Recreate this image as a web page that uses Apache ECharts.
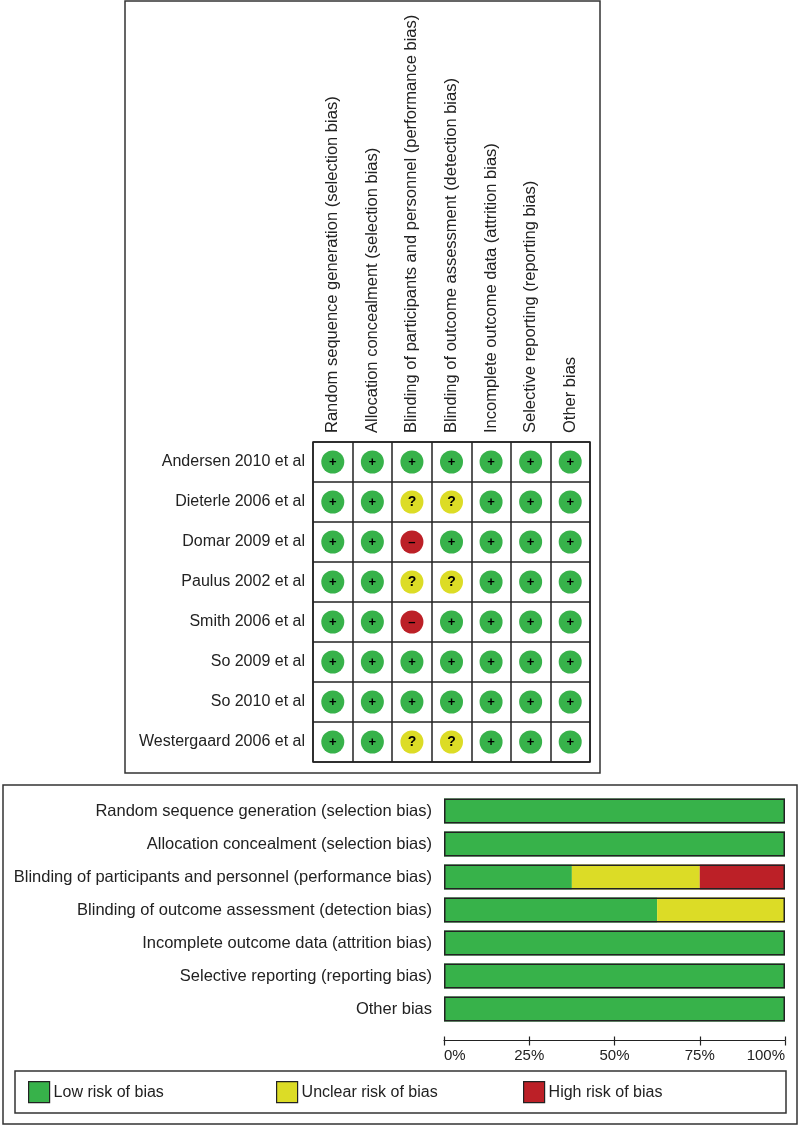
<!DOCTYPE html>
<html>
<head>
<meta charset="utf-8">
<script src="https://cdn.jsdelivr.net/npm/echarts@6/dist/echarts.min.js"></script>
<style>
  html, body { margin: 0; padding: 0; background: #fff; }
  #chart { width: 800px; height: 1129px; }
</style>
</head>
<body>
<div id="chart"></div>
<script>
// risk of bias domains (column headers / bar labels)
var domains = [
    'Random sequence generation (selection bias)',
    'Allocation concealment (selection bias)',
    'Blinding of participants and personnel (performance bias)',
    'Blinding of outcome assessment (detection bias)',
    'Incomplete outcome data (attrition bias)',
    'Selective reporting (reporting bias)',
    'Other bias'
];

var studies = [
    'Andersen 2010 et al',
    'Dieterle 2006 et al',
    'Domar 2009 et al',
    'Paulus 2002 et al',
    'Smith 2006 et al',
    'So 2009 et al',
    'So 2010 et al',
    'Westergaard 2006 et al'
];

// L = low, U = unclear, H = high; one row per study, one entry per domain
var judgments = [
    ['L', 'L', 'L', 'L', 'L', 'L', 'L'],
    ['L', 'L', 'U', 'U', 'L', 'L', 'L'],
    ['L', 'L', 'H', 'L', 'L', 'L', 'L'],
    ['L', 'L', 'U', 'U', 'L', 'L', 'L'],
    ['L', 'L', 'H', 'L', 'L', 'L', 'L'],
    ['L', 'L', 'L', 'L', 'L', 'L', 'L'],
    ['L', 'L', 'L', 'L', 'L', 'L', 'L'],
    ['L', 'L', 'U', 'U', 'L', 'L', 'L']
];

// percentage of studies per domain (risk of bias graph)
var lowPct = [100, 100, 37.5, 62.5, 100, 100, 100];
var unclearPct = [0, 0, 37.5, 37.5, 0, 0, 0];
var highPct = [0, 0, 25, 0, 0, 0, 0];

var GREEN = '#37b24a', YELLOW = '#dcdc26', RED = '#bc2027';
var colorOf = {L: GREEN, U: YELLOW, H: RED};
var markOf = {L: '+', U: '?', H: '\u2013'};
var fontFam = 'Liberation Sans, Arial, sans-serif';

var cells = [];
judgments.forEach(function (row, i) {
    row.forEach(function (j, k) {
        cells.push({
            value: [k, i, j],
            itemStyle: {color: colorOf[j]},
            label: {fontSize: j === 'U' ? 14 : 13}
        });
    });
});

var e = echarts.init(document.getElementById('chart'));
e.setOption({
    animation: false,
    backgroundColor: '#fff',
    textStyle: {fontFamily: fontFam},
    graphic: [
        {type: 'rect', shape: {x: 125, y: 1, width: 475, height: 772},
            style: {fill: 'none', stroke: '#333', lineWidth: 1.5}},
        {type: 'rect', shape: {x: 3, y: 785, width: 794, height: 339},
            style: {fill: 'none', stroke: '#333', lineWidth: 1.5}},
        {type: 'rect', shape: {x: 15, y: 1071, width: 771, height: 42},
            style: {fill: 'none', stroke: '#333', lineWidth: 1.5}}
    ],
    grid: [
        {left: 313, top: 442, width: 277, height: 320, show: true,
            borderColor: '#222', borderWidth: 1.5, backgroundColor: 'transparent'},
        {left: 444, top: 794.5, width: 341, height: 231}
    ],
    xAxis: [
        {
            gridIndex: 0, type: 'category', data: domains, position: 'top',
            axisLine: {show: false}, axisTick: {show: false},
            axisLabel: {rotate: -90, interval: 0, margin: 9, fontSize: 16.5, color: '#222'},
            splitLine: {show: true, interval: 0, lineStyle: {color: '#222', width: 1.5}}
        },
        {
            gridIndex: 1, type: 'value', position: 'bottom', min: 0, max: 100, interval: 25, offset: 15,
            axisLine: {show: true, lineStyle: {color: '#222', width: 1.2}},
            axisTick: {show: true, length: 5, lineStyle: {color: '#222', width: 1.2}},
            splitLine: {show: false},
            axisLabel: {
                fontSize: 15, color: '#222', margin: 8,
                alignMinLabel: 'left', alignMaxLabel: 'right',
                formatter: '{value}%'
            }
        },
        {
            gridIndex: 1, type: 'value', position: 'bottom', min: 0, max: 100, interval: 25, offset: 15,
            axisLine: {show: false},
            axisTick: {show: true, inside: true, length: 4, lineStyle: {color: '#222', width: 1.2}},
            splitLine: {show: false},
            axisLabel: {show: false}
        }
    ],
    yAxis: [
        {
            gridIndex: 0, type: 'category', data: studies, inverse: true,
            axisLine: {show: false}, axisTick: {show: false},
            axisLabel: {margin: 8, fontSize: 16, color: '#222'},
            splitLine: {show: true, interval: 0, lineStyle: {color: '#222', width: 1.5}}
        },
        {
            gridIndex: 1, type: 'category', data: domains, inverse: true,
            axisLine: {show: false}, axisTick: {show: false},
            axisLabel: {margin: 12, fontSize: 16.5, color: '#222'}
        }
    ],
    legend: [
        {data: ['Low risk of bias'], left: 28, top: 1081},
        {data: ['Unclear risk of bias'], left: 276, top: 1081},
        {data: ['High risk of bias'], left: 523, top: 1081}
    ].map(function (l) {
        l.itemWidth = 21;
        l.itemHeight = 21;
        l.icon = 'rect';
        l.padding = 0;
        l.selectedMode = false;
        l.itemStyle = {borderColor: '#222', borderWidth: 1.2};
        l.textStyle = {fontSize: 16, color: '#222', padding: [0, 0, 0, -1]};
        return l;
    }),
    series: [
        {
            type: 'scatter', xAxisIndex: 0, yAxisIndex: 0,
            symbol: 'circle', symbolSize: 23, data: cells,
            itemStyle: {opacity: 1},
            label: {
                show: true, position: 'inside', color: '#000', fontWeight: 'bold',
                fontSize: 13,
                formatter: function (p) { return markOf[p.value[2]]; }
            }
        },
        {name: 'Low risk of bias', type: 'bar', xAxisIndex: 1, yAxisIndex: 1, stack: 'rob',
            barWidth: 25, barGap: '-100%', data: lowPct, itemStyle: {color: GREEN}},
        {name: 'Unclear risk of bias', type: 'bar', xAxisIndex: 1, yAxisIndex: 1, stack: 'rob',
            barWidth: 25, barGap: '-100%', data: unclearPct, itemStyle: {color: YELLOW}},
        {name: 'High risk of bias', type: 'bar', xAxisIndex: 1, yAxisIndex: 1, stack: 'rob',
            barWidth: 25, barGap: '-100%', data: highPct, itemStyle: {color: RED}},
        {
            name: 'outline', type: 'bar', xAxisIndex: 1, yAxisIndex: 1,
            barWidth: 25, barGap: '-100%', z: 5, silent: true,
            data: lowPct.map(function () { return 100; }),
            itemStyle: {color: 'transparent', borderColor: '#222', borderWidth: 1.5}
        }
    ]
});
window.onresize = function () {
    e.resize();
};
</script>
</body>
</html>
